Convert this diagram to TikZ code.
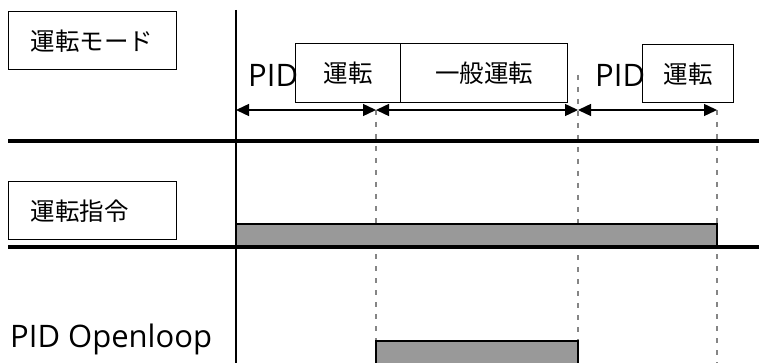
\documentclass[tikz,border=0pt]{standalone}
\usepackage{fontspec}
\setmainfont{Open Sans}
\newfontfamily\jp{Noto Sans CJK JP}
\usetikzlibrary{arrows.meta}
\definecolor{bargray}{HTML}{999999}
\definecolor{dashgray}{HTML}{858585}
\begin{document}
\begin{tikzpicture}[x=1pt,y=-1pt,
  box/.style={draw, line width=1.4pt, inner sep=0pt, minimum height=59pt,
    anchor=north west, font=\jp\fontsize{24.5}{28}\selectfont},
  lbox/.style={box, align=left, inner xsep=22pt, text width=#1, minimum height=58pt},
  pidl/.style={inner sep=0pt, anchor=base west, font=\fontsize{31}{35}\selectfont},
  dim/.style={{Triangle[length=13pt,width=12pt]}-{Triangle[length=13pt,width=12pt]}, line width=1.4pt},
  dashline/.style={draw=dashgray, line width=1.8pt, dash pattern=on 5pt off 7pt},
  bar/.style={draw=black, fill=bargray, line width=1.6pt},
  sepline/.style={line width=3.8pt},
  axis/.style={line width=1.8pt}]
\clip (0,0) rectangle (759,363);
\fill[white] (0,0) rectangle (759,363);

% time marks
\coordinate (t0) at (236,110);
\coordinate (t1) at (376,110);
\coordinate (t2) at (578,110);
\coordinate (t3) at (717,110);
\coordinate (t2top) at (578,75);
\coordinate (b1) at (376,363);
\coordinate (b2) at (578,363);
\coordinate (b3) at (717,363);
\coordinate (axtop) at (236,10);
\coordinate (axbot) at (236,363);

% dashed guides
\draw[dashline] (t1) -- (b1);
\draw[dashline] (t2top) -- (b2);
\draw[dashline] (t3) -- (b3);

% signal bars
\draw[bar] (236,224) rectangle (717,246);
\draw[bar] (376,341) rectangle (578,370);

% separators
\draw[sepline] (8,141) -- (759,141);
\draw[sepline] (8,247) -- (759,247);
\draw[axis] (axtop) -- (axbot);

% labels
\node[lbox=124pt] (mode) at (8,11) {運転モード};
\node[lbox=124pt] (cmd) at (8,181) {運転指令};
\node[pidl] (ol) at (10,347) {PID Openloop};

% mode boxes
\node[pidl] (pid1) at (248,87) {PID};
\node[box, minimum width=105pt] (run1) at (295,43) {運転};
\node[box, minimum width=167pt] (gen) at (400,43) {一般運転};
\node[pidl] (pid2) at (595,87) {PID};
\node[box, minimum width=91pt, minimum height=58pt] (run2) at (642,44) {運転};

% duration arrows
\draw[dim] (t0) -- (t1);
\draw[dim] (t1) -- (t2);
\draw[dim] (t2) -- (t3);
\end{tikzpicture}
\end{document}
